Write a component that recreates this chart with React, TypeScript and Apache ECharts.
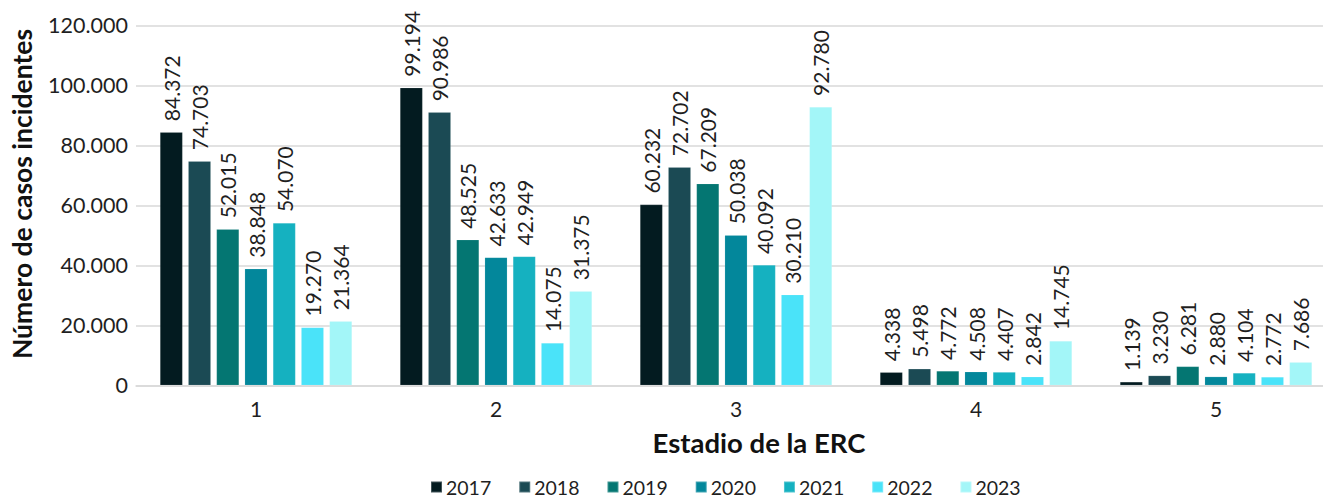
import React, { useEffect, useRef } from "react";
import * as echarts from "echarts";

const categories = ["1", "2", "3", "4", "5"];
const years = ["2017", "2018", "2019", "2020", "2021", "2022", "2023"];
const v2017 = [84372, 99194, 60232, 4338, 1139];
const v2018 = [74703, 90986, 72702, 5498, 3230];
const v2019 = [52015, 48525, 67209, 4772, 6281];
const v2020 = [38848, 42633, 50038, 4508, 2880];
const v2021 = [54070, 42949, 40092, 4407, 4104];
const v2022 = [19270, 14075, 30210, 2842, 2772];
const v2023 = [21364, 31375, 92780, 14745, 7686];
const seriesValues = [v2017, v2018, v2019, v2020, v2021, v2022, v2023];
const colors = ["#031b20", "#1b4a54", "#047672", "#03879b", "#15b1c0", "#4ae3f9", "#a3f6f8"];
const yTicks = [0, 20000, 40000, 60000, 80000, 100000, 120000];

const FONT = "Lato";
const TXT = "#1f1f1f";

function fmt(n: number): string {
  return String(Math.round(n)).replace(/\B(?=(\d{3})+(?!\d))/g, ".");
}

export default function App() {
  const ref = useRef<HTMLDivElement>(null);
  useEffect(() => {
    if (!ref.current) return;
    const chart = echarts.init(ref.current, null, { renderer: "svg" });
    chart.setOption({
      animation: false,
      textStyle: { fontFamily: FONT },
      grid: { left: 136, right: 4, top: 25.3, bottom: 113.7, containLabel: false },
      legend: {
        data: years,
        left: 430,
        top: 477,
        padding: 0,
        itemWidth: 11,
        itemHeight: 11,
        itemGap: 27,
        icon: "rect",
        textStyle: { fontSize: 19.5, lineHeight: 20, color: TXT, fontFamily: FONT, padding: [0, 0, 0, -1] },
      },
      xAxis: {
        type: "category",
        data: categories,
        axisLine: { show: true, lineStyle: { color: "#d9d9d9", width: 1.5 } },
        axisTick: { show: false },
        axisLabel: { fontSize: 21, color: TXT, margin: 13, fontFamily: FONT },
      },
      yAxis: {
        type: "value",
        min: yTicks[0],
        max: yTicks[yTicks.length - 1],
        interval: yTicks[1] - yTicks[0],
        axisLine: { show: false },
        axisTick: { show: false },
        splitLine: { lineStyle: { color: "#d9d9d9", width: 1.5 } },
        axisLabel: {
          fontSize: 21.5,
          color: TXT,
          margin: 8,
          fontFamily: FONT,
          formatter: (v: number) => fmt(v),
        },
      },
      graphic: [
        {
          type: "text",
          x: 22,
          y: 194,
          rotation: Math.PI / 2,
          style: {
            text: "Número de casos incidentes",
            fontSize: 26.5,
            fontWeight: "bold",
            fontFamily: FONT,
            fill: "#111",
            textAlign: "center",
            textVerticalAlign: "middle",
          },
        },
        {
          type: "text",
          x: 759,
          y: 442,
          style: {
            text: "Estadio de la ERC",
            fontSize: 27.5,
            fontWeight: "bold",
            fontFamily: FONT,
            fill: "#111",
            textAlign: "center",
            textVerticalAlign: "middle",
          },
        },
      ],
      series: years.map((y, i) => ({
        name: y,
        type: "bar",
        data: seriesValues[i],
        barGap: "25%",
        barCategoryGap: "20%",
        itemStyle: { color: colors[i], borderColor: "rgba(255,255,255,0.25)", borderWidth: 0.5 },
        label: {
          show: true,
          position: "top",
          rotate: 90,
          align: "left",
          verticalAlign: "middle",
          distance: 11,
          fontSize: 21,
          color: TXT,
          fontFamily: FONT,
          formatter: (p: any) => fmt(p.value),
        },
      })),
    });
    return () => chart.dispose();
  }, []);
  return (
    <div style={{ position: "fixed", left: 0, top: 0, width: 1323, height: 499, overflow: "hidden", background: "#fff" }}>
      <div ref={ref} style={{ width: 1340, height: 499 }} />
    </div>
  );
}
